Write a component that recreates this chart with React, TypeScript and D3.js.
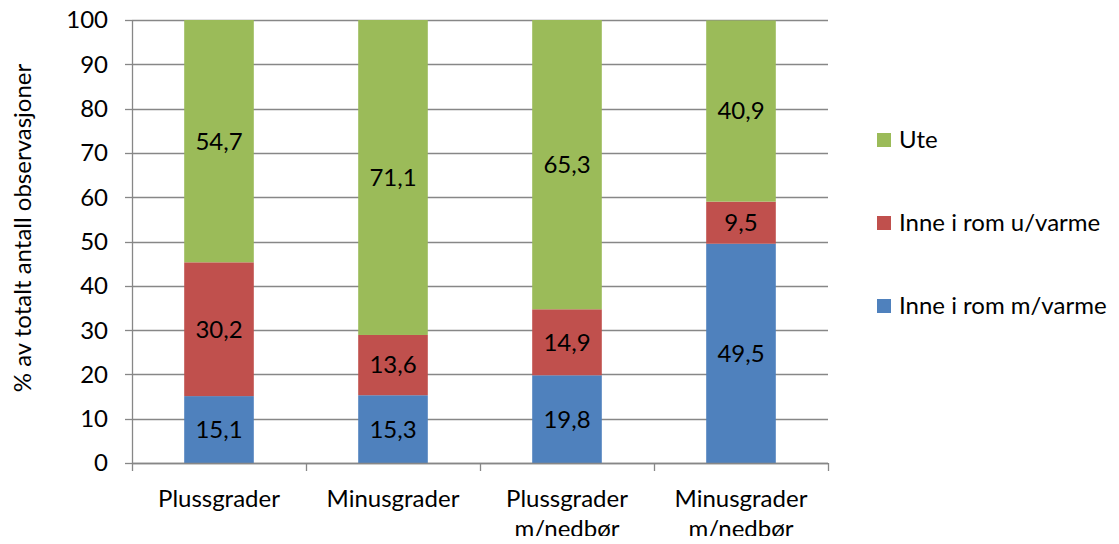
import React, { useEffect, useRef } from 'react';
import * as d3 from 'd3';

const categories = ['Plussgrader', 'Minusgrader', 'Plussgrader\nm/nedbør', 'Minusgrader\nm/nedbør'];
const inneMedVarme = [15.1, 15.3, 19.8, 49.5];
const inneUtenVarme = [30.2, 13.6, 14.9, 9.5];
const ute = [54.7, 71.1, 65.3, 40.9];
const seriesNames = ['Inne i rom m/varme', 'Inne i rom u/varme', 'Ute'];
const seriesColors = ['#4F81BD', '#C0504D', '#9BBB59'];
const yTicks = [0, 10, 20, 30, 40, 50, 60, 70, 80, 90, 100];

const FONT = 'Lato, "Open Sans", sans-serif';
const FS = 24;

export default function App() {
  const svgRef = useRef<SVGSVGElement>(null);

  useEffect(() => {
    const width = 1119;
    const height = 544;
    const margin = { left: 132, right: 291, top: 20, bottom: 81 };
    const drawWidth = width - margin.left - margin.right;
    const drawHeight = height - margin.top - margin.bottom;

    const svg = d3.select(svgRef.current);
    svg.selectAll('*').remove();

    const g = svg.append('g').attr('transform', `translate(${margin.left},${margin.top})`);

    const xScale = d3.scaleBand().domain(categories).range([0, drawWidth]).padding(0);
    const yScale = d3.scaleLinear().domain([0, 100]).range([drawHeight, 0]);
    const barWidth = xScale.bandwidth() / 2.5;

    // grid lines
    g.selectAll('line.grid')
      .data(yTicks)
      .enter().append('line')
      .attr('x1', 0)
      .attr('x2', drawWidth)
      .attr('y1', (d) => Math.round(yScale(d)) + 0.5)
      .attr('y2', (d) => Math.round(yScale(d)) + 0.5)
      .attr('stroke', '#878787')
      .attr('stroke-width', 1.3);

    // stacked data
    const rows = categories.map((c, i) => ({
      cat: c,
      v0: inneMedVarme[i],
      v1: inneUtenVarme[i],
      v2: ute[i],
    }));
    const stack = d3.stack<any>().keys(['v0', 'v1', 'v2']);
    const stacked = stack(rows);

    stacked.forEach((layer, si) => {
      const lg = g.append('g');
      lg.selectAll('rect')
        .data(layer)
        .enter().append('rect')
        .attr('x', (d) => xScale(d.data.cat)! + (xScale.bandwidth() - barWidth) / 2)
        .attr('width', barWidth)
        .attr('y', (d) => yScale(Math.min(d[1], 100)))
        .attr('height', (d) => yScale(d[0]) - yScale(Math.min(d[1], 100)))
        .attr('fill', seriesColors[si]);

      lg.selectAll('text')
        .data(layer)
        .enter().append('text')
        .attr('x', (d) => xScale(d.data.cat)! + xScale.bandwidth() / 2)
        .attr('y', (d) => yScale((d[0] + Math.min(d[1], 100)) / 2))
        .attr('dy', '0.35em')
        .attr('text-anchor', 'middle')
        .attr('font-family', FONT)
        .attr('font-size', FS)
        .attr('fill', '#000')
        .text((d) => String((d.data as any)[layer.key]).replace('.', ','));
    });

    // y axis
    const yAxis = g.append('g');
    yAxis.append('line')
      .attr('x1', 0.5).attr('x2', 0.5)
      .attr('y1', 0).attr('y2', drawHeight)
      .attr('stroke', '#878787').attr('stroke-width', 1.3);
    yAxis.selectAll('line.tick')
      .data(yTicks)
      .enter().append('line')
      .attr('x1', -7).attr('x2', 0)
      .attr('y1', (d) => Math.round(yScale(d)) + 0.5)
      .attr('y2', (d) => Math.round(yScale(d)) + 0.5)
      .attr('stroke', '#878787').attr('stroke-width', 1.3);
    yAxis.selectAll('text')
      .data(yTicks)
      .enter().append('text')
      .attr('x', -24)
      .attr('y', (d) => yScale(d))
      .attr('dy', '0.35em')
      .attr('text-anchor', 'end')
      .attr('font-family', FONT)
      .attr('font-size', FS)
      .attr('fill', '#000')
      .text((d) => d);

    // x axis
    const xAxis = g.append('g').attr('transform', `translate(0,${drawHeight})`);
    xAxis.append('line')
      .attr('x1', 0).attr('x2', drawWidth)
      .attr('y1', 0.5).attr('y2', 0.5)
      .attr('stroke', '#878787').attr('stroke-width', 1.3);
    const boundaries = categories.map((c) => xScale(c)!).concat([drawWidth]);
    xAxis.selectAll('line.tick')
      .data(boundaries)
      .enter().append('line')
      .attr('x1', (d) => Math.round(d) + 0.5)
      .attr('x2', (d) => Math.round(d) + 0.5)
      .attr('y1', 0).attr('y2', 8)
      .attr('stroke', '#878787').attr('stroke-width', 1.3);
    const catLabels = xAxis.selectAll('text')
      .data(categories)
      .enter().append('text')
      .attr('x', (d) => xScale(d)! + xScale.bandwidth() / 2)
      .attr('y', 44)
      .attr('text-anchor', 'middle')
      .attr('font-family', FONT)
      .attr('font-size', FS)
      .attr('fill', '#000');
    catLabels.each(function (d) {
      const lines = d.split('\n');
      const t = d3.select(this);
      lines.forEach((ln, i) => {
        t.append('tspan')
          .attr('x', xScale(d)! + xScale.bandwidth() / 2)
          .attr('dy', i === 0 ? 0 : 30)
          .text(ln);
      });
    });

    // y axis title
    svg.append('text')
      .attr('transform', `translate(23,228) rotate(-90)`)
      .attr('text-anchor', 'middle')
      .attr('dy', '0.35em')
      .attr('font-family', FONT)
      .attr('font-size', FS)
      .attr('fill', '#000')
      .text('% av totalt antall observasjoner');

    // legend (reverse order, Ute on top)
    const legendItems = [2, 1, 0];
    const legend = svg.append('g').attr('transform', 'translate(877,140)');
    legendItems.forEach((si, i) => {
      const item = legend.append('g').attr('transform', `translate(0,${i * 83})`);
      item.append('rect')
        .attr('x', 0).attr('y', -7)
        .attr('width', 14).attr('height', 14)
        .attr('fill', seriesColors[si]);
      item.append('text')
        .attr('x', 22).attr('y', 0)
        .attr('dy', '0.35em')
        .attr('font-family', FONT)
        .attr('font-size', FS)
        .attr('fill', '#000')
        .text(seriesNames[si]);
    });
  }, []);

  return (
    <svg ref={svgRef} width={1119} height={544} style={{ display: 'block', margin: '-8px', background: '#fff' }} />
  );
}
